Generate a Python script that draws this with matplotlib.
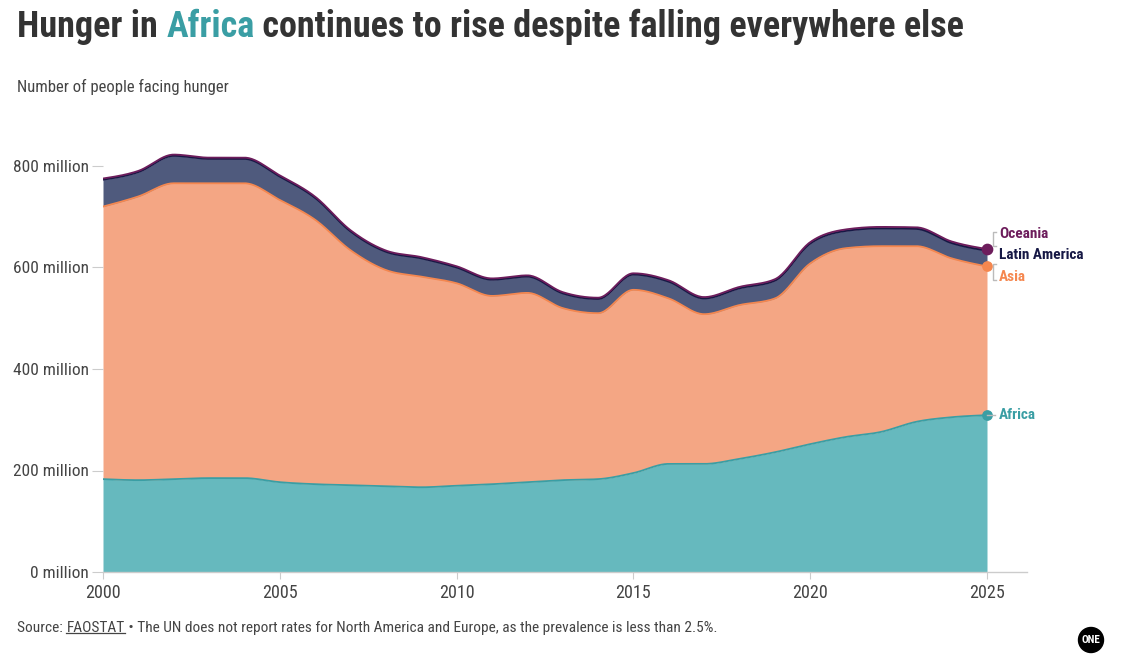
import numpy as np
import matplotlib
matplotlib.use("Agg")
import matplotlib.pyplot as plt
from matplotlib import font_manager
from matplotlib.patches import Circle
from matplotlib.lines import Line2D

years = list(range(2000, 2026))
africa = [183, 181, 183, 185, 185, 177, 173, 171, 169, 167, 170, 173, 177, 181, 183,
          195, 213, 213, 223, 236, 252, 266, 276, 296, 305, 309]
asia = [537, 559, 583, 581, 581, 556, 521, 463, 426, 415, 399, 371, 373, 339, 327,
        361, 326, 295, 303, 303, 356, 372, 366, 346, 313, 293]
latin_america = [53, 48, 54, 48, 48, 46, 43, 37, 36, 36, 31, 32, 32, 29, 28,
                 30, 33, 31, 33, 35, 39, 34, 35, 34, 30, 31]
oceania = [2.4, 2.4, 2.5, 2.5, 2.5, 2.5, 2.5, 2.5, 2.5, 2.5, 2.5, 2.5, 2.5, 2.5, 2.5,
           2.6, 2.7, 2.7, 2.8, 2.9, 3.0, 3.0, 3.0, 3.2, 3.3, 3.4]
series_names = ["Africa", "Asia", "Latin America", "Oceania"]
y_ticks = [0, 200, 400, 600, 800]
y_tick_labels = ["0 million", "200 million", "400 million", "600 million", "800 million"]
x_ticks = [2000, 2005, 2010, 2015, 2020, 2025]

available = {f.name for f in font_manager.fontManager.ttflist}
def pick(*names):
    for n in names:
        if n in available:
            return n
    return "DejaVu Sans"
FONT = pick("Liberation Sans Narrow", "Roboto Condensed", "Open Sans Condensed", "Roboto", "Lato")
plt.rcParams["font.family"] = [FONT, "DejaVu Sans"]

DARK = "#333333"
GREY_TXT = "#444444"
TEAL_FILL = "#66b9be"; TEAL_LINE = "#3a9ea4"
ASIA_FILL = "#f4a684"; ASIA_LINE = "#f5874f"
LAT_FILL = "#4f5a7d"; LAT_LINE = "#161845"
OCE_FILL = "#6d1d5c"; OCE_LINE = "#6d1d5c"


def monotone(x, y, n=24):
    x = np.asarray(x, float); y = np.asarray(y, float)
    h = np.diff(x); s = np.diff(y) / h
    t = np.zeros_like(y)
    for i in range(1, len(y) - 1):
        s0, s1 = s[i - 1], s[i]
        p = (s0 * h[i] + s1 * h[i - 1]) / (h[i - 1] + h[i])
        t[i] = (np.sign(s0) + np.sign(s1)) * min(abs(s0), abs(s1), 0.5 * abs(p))
    t[0] = (3 * s[0] - t[1]) / 2
    t[-1] = (3 * s[-1] - t[-2]) / 2
    xs, ys = [], []
    for i in range(len(x) - 1):
        u = np.linspace(0, 1, n, endpoint=(i == len(x) - 2))
        h00 = 2*u**3 - 3*u**2 + 1; h10 = u**3 - 2*u**2 + u
        h01 = -2*u**3 + 3*u**2; h11 = u**3 - u**2
        xs.append(x[i] + u * h[i])
        ys.append(h00*y[i] + h10*h[i]*t[i] + h01*y[i+1] + h11*h[i]*t[i+1])
    return np.concatenate(xs), np.concatenate(ys)

W, H = 1123, 671
fig = plt.figure(figsize=(W/100, H/100), dpi=100)
ax = fig.add_axes([103/W, 1 - 572/H, 924/W, 456.7/H])

c1 = np.array(africa, float)
c2 = c1 + np.array(asia)
c3 = c2 + np.array(latin_america)
c4 = c3 + np.array(oceania)

xs, s1 = monotone(years, c1)
_, s2 = monotone(years, c2)
_, s3 = monotone(years, c3)
_, s4 = monotone(years, c4)

ax.fill_between(xs, 0, s1, color=TEAL_FILL, lw=0)
ax.fill_between(xs, s1, s2, color=ASIA_FILL, lw=0)
ax.fill_between(xs, s2, s3, color=LAT_FILL, lw=0)
ax.fill_between(xs, s3, s4, color=OCE_FILL, lw=0)
ax.plot(xs, s1, color=TEAL_LINE, lw=1.3)
ax.plot(xs, s2, color=ASIA_LINE, lw=1.3)
ax.plot(xs, s3, color=LAT_LINE, lw=1.3)
ax.plot(xs, s4, color=OCE_LINE, lw=1.3)

ax.set_xlim(2000, 2000 + 924/35.36)
ax.set_ylim(0, 456.7/0.5075)
for sp in ["top", "right", "left"]:
    ax.spines[sp].set_visible(False)
ax.spines["bottom"].set_color("#cccccc")
ax.spines["bottom"].set_linewidth(1)
ax.set_yticks(y_ticks)
ax.set_yticklabels(y_tick_labels)
ax.set_xticks(x_ticks)
ax.set_xticklabels([str(v) for v in x_ticks])
ax.tick_params(axis="y", length=8, color="#cccccc", labelsize=12.5, labelcolor=GREY_TXT, pad=2)
ax.tick_params(axis="x", length=5, color="#cccccc", labelsize=13, labelcolor=GREY_TXT, pad=4)

# end dots and labels
last = len(years) - 1
ax.scatter([years[last]], [c4[last]], s=55, color=OCE_FILL, zorder=5, clip_on=False)
ax.scatter([years[last]], [c2[last]], s=45, color=ASIA_LINE, zorder=5, clip_on=False)
ax.scatter([years[last]], [c1[last]], s=45, color=TEAL_LINE, zorder=5, clip_on=False)

def px2fig(x, y):
    return x / W, 1 - y / H

lab_kw = dict(fontsize=11, fontweight="bold", va="center", ha="left")
fig.text(*px2fig(999, 234), series_names[3], color=OCE_FILL, **lab_kw)
fig.text(*px2fig(999, 255), series_names[2], color=LAT_LINE, **lab_kw)
fig.text(*px2fig(999, 277), series_names[1], color=ASIA_LINE, **lab_kw)
fig.text(*px2fig(999, 415), series_names[0], color=TEAL_LINE, **lab_kw)

def figline(xp, yp, **kw):
    fig.add_artist(Line2D([x / W for x in xp], [1 - y / H for y in yp],
                          color="#bbbbbb", lw=1, **kw))
figline([996, 993, 993, 996], [232, 232, 246, 246])
figline([996, 993, 993, 996], [264, 264, 280, 280])
figline([987, 995], [415, 415])

# title pieces
fig.canvas.draw()
renderer = fig.canvas.get_renderer()

def seq_text(x_px, y_px, pieces, **kw):
    x = x_px
    arts = []
    for txt, color, extra in pieces:
        t = fig.text(x / W, 1 - y_px / H, txt, color=color, **kw, **extra)
        bb = t.get_window_extent(renderer)
        arts.append((t, bb))
        x += bb.width
    return arts

seq_text(17, 27, [("Hunger in ", DARK, {}), ("Africa", TEAL_LINE, {}),
                  (" continues to rise despite falling everywhere else", DARK, {})],
         fontsize=26, fontweight="bold", va="center", ha="left")

fig.text(17/W, 1 - 87/H, "Number of people facing hunger", fontsize=12, color=GREY_TXT,
         va="center", ha="left")

arts = seq_text(17, 628, [("Source: ", GREY_TXT, {}), ("FAOSTAT", GREY_TXT, {}),
                          (" \u2022 The UN does not report rates for North America and Europe, as the prevalence is less than 2.5%.", GREY_TXT, {})],
                fontsize=11.1, va="center", ha="left")
bb = arts[1][1]
uy = bb.y0 + 2
fig.add_artist(Line2D([bb.x0 / W, bb.x1 / W], [uy / H, uy / H],
                      color=GREY_TXT, lw=0.9))

# ONE logo
fig.add_artist(Circle((10.91, (H - 640) / 100), 0.125, transform=fig.dpi_scale_trans,
                      color="black"))
fig.text(1091 / W, 1 - 640 / H, "ONE", color="white", fontsize=8, fontweight="bold",
         ha="center", va="center")

fig.savefig("out.png", dpi=100)
